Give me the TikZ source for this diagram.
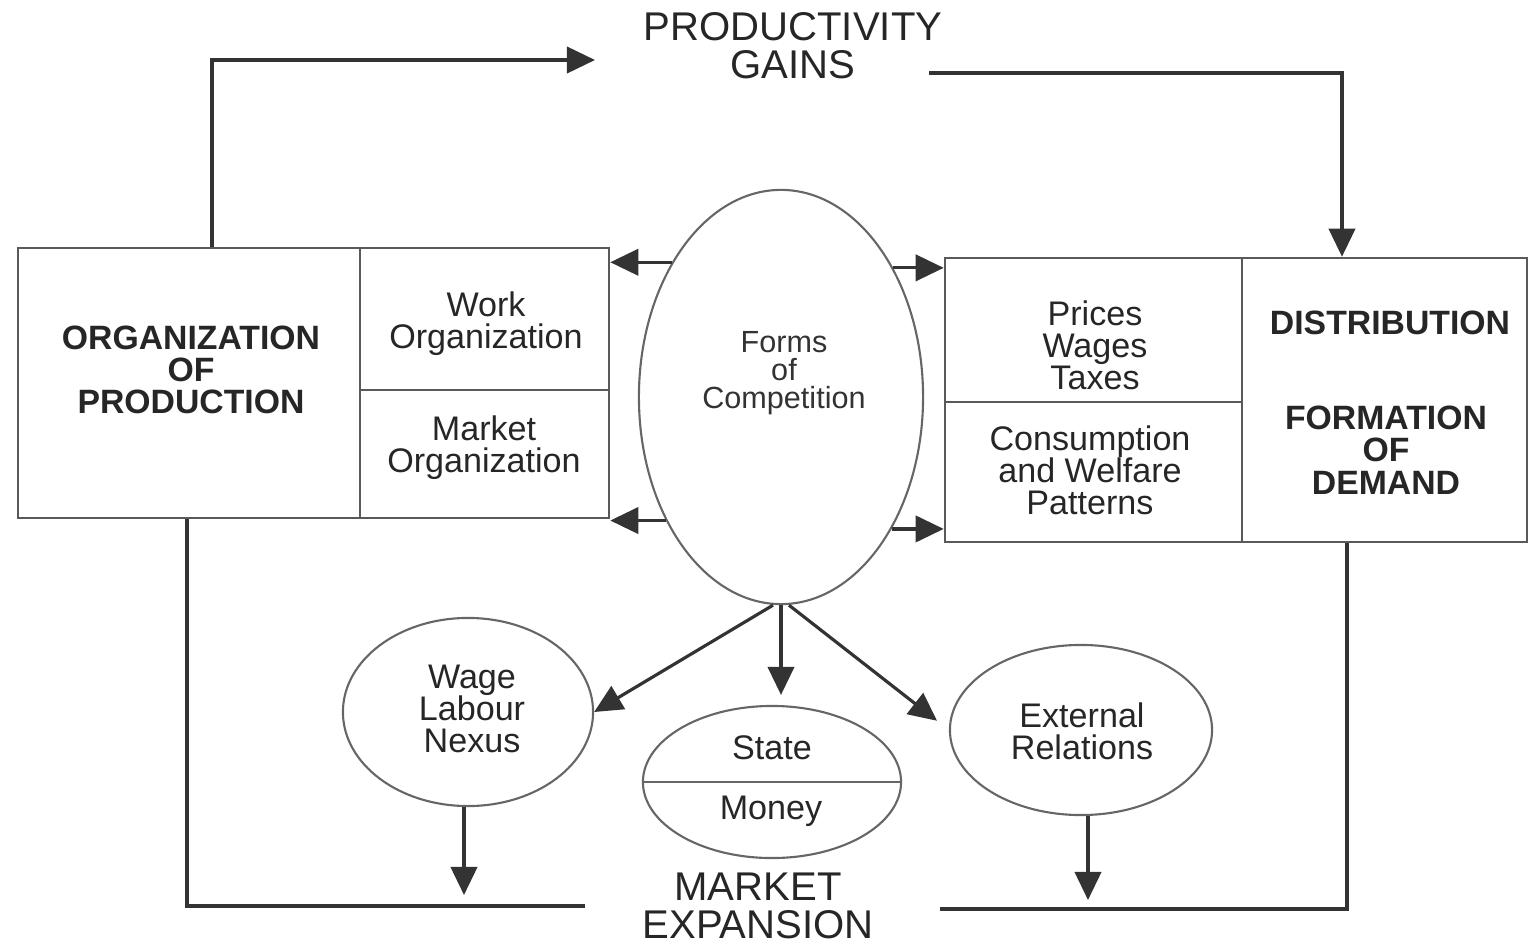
\documentclass[tikz,border=0pt]{standalone}
\usepackage{fontspec}
\setmainfont{Liberation Sans}
\usetikzlibrary{arrows.meta,calc,shapes.geometric}

\begin{document}
\begin{tikzpicture}[x=0.01cm,y=-0.01cm,
  cell/.style={draw=black!65,line width=0.7pt,inner sep=0pt,rectangle},
  oval/.style={draw=black!60,line width=0.6pt,ellipse,inner sep=0pt},
  lab/.style={align=center,inner sep=0pt,font=\fontsize{9.7pt}{9.1pt}\selectfont,text=black!85},
  blab/.style={align=center,inner sep=0pt,font=\bfseries\fontsize{9.6pt}{9.2pt}\selectfont,text=black!85},
  big/.style={align=center,inner sep=0pt,font=\fontsize{11.4pt}{10.8pt}\selectfont,text=black!85},
  small/.style={align=center,inner sep=0pt,font=\fontsize{8.7pt}{8pt}\selectfont,text=black!80},
  conn/.style={draw=black!80,line width=0.9pt},
  arr/.style={conn,-{Triangle[length=8pt,width=7.5pt]}}]
\useasboundingbox (0,0) rectangle (1529,942);

% titles
\node[big] (prod) at (793,46) {PRODUCTIVITY\\GAINS};
\node[big] (mkt) at (758,906) {MARKET\\EXPANSION};

% left block
\node[cell,minimum width=3.42cm,minimum height=2.70cm] (orgp) at (189,383) {};
\node[cell,minimum width=2.49cm,minimum height=1.42cm] (work) at (484.5,319) {};
\node[cell,minimum width=2.49cm,minimum height=1.28cm] (mkto) at (484.5,454) {};
\node[blab] (orgt) at (191,370) {ORGANIZATION\\OF\\PRODUCTION};
\node[lab] (workt) at (486,324) {Work\\Organization};
\node[lab] (mktot) at (484,448) {Market\\Organization};

% right block
\node[cell,minimum width=2.97cm,minimum height=1.44cm] (pwt) at (1093.5,330) {};
\node[cell,minimum width=2.97cm,minimum height=1.40cm] (cwp) at (1093.5,472) {};
\node[cell,minimum width=2.85cm,minimum height=2.84cm] (dist) at (1384.5,400) {};
\node[lab] (pwtt) at (1095,345) {Prices\\Wages\\Taxes};
\node[lab] (cwpt) at (1090,470) {Consumption\\and Welfare\\Patterns};
\node[blab] (distt) at (1390,323) {DISTRIBUTION};
\node[blab] (fodt) at (1386,450) {FORMATION\\OF\\DEMAND};

% central ellipse
\node[oval,minimum width=2.84cm,minimum height=4.14cm] (fc) at (781,397) {};
\node[small] (fct) at (784,373) {Forms\\of\\Competition};

% lower ellipses
\node[oval,minimum width=2.50cm,minimum height=1.88cm] (wln) at (468,712) {};
\node[lab] (wlnt) at (472,709) {Wage\\Labour\\Nexus};
\node[oval,minimum width=2.58cm,minimum height=1.52cm] (sm) at (772,782) {};
\draw[draw=black!60,line width=0.6pt] (sm.west) -- (sm.east);
\node[lab] (state) at (772,748) {State};
\node[lab] (money) at (771,811) {Money};
\node[oval,minimum width=2.62cm,minimum height=1.70cm] (ext) at (1081,730) {};
\node[lab] (extt) at (1082,731) {External\\Relations};

% arrows from forms of competition to the blocks
\draw[arr] (fc.129.5) -- (fc.129.5 -| work.east);
\draw[arr] (fc.49.3) -- (fc.49.3 -| pwt.west);
\draw[arr] (fc.227.2) -- (fc.227.2 -| mkto.east);
\draw[arr] (fc.310) -- (fc.310 -| cwp.west);

% arrows to the lower ellipses
\draw[arr] ([xshift=-0.08cm]fc.south) -- (wln.east);
\draw[arr,shorten >=0.1cm] (fc.south) -- (fc.south |- sm.north);
\draw[arr,shorten >=0.15cm] ([xshift=0.08cm]fc.south) -- (ext.west);

% arrows down to market expansion
\coordinate (wtip) at (464,895);
\coordinate (etip) at (1088,900);
\draw[arr] (wln.south -| wtip) -- (wtip);
\draw[arr] (ext.south -| etip) -- (etip);

% feedback loop
\coordinate (tlc) at (212,60);
\coordinate (ptip) at (595,60);
\draw[arr] (orgp.north -| tlc) -- (tlc) -- (ptip);
\coordinate (prs) at (929,73);
\coordinate (trc) at (1342,73);
\draw[arr] (prs) -- (trc) -- (trc |- dist.north);
\coordinate (blc) at (187,906);
\coordinate (mle) at (585,906);
\draw[conn] (orgp.south -| blc) -- (blc) -- (mle);
\coordinate (mre) at (940,909);
\coordinate (brc) at (1347,909);
\draw[conn] (mre) -- (brc) -- (brc |- dist.south);
\end{tikzpicture}
\end{document}
